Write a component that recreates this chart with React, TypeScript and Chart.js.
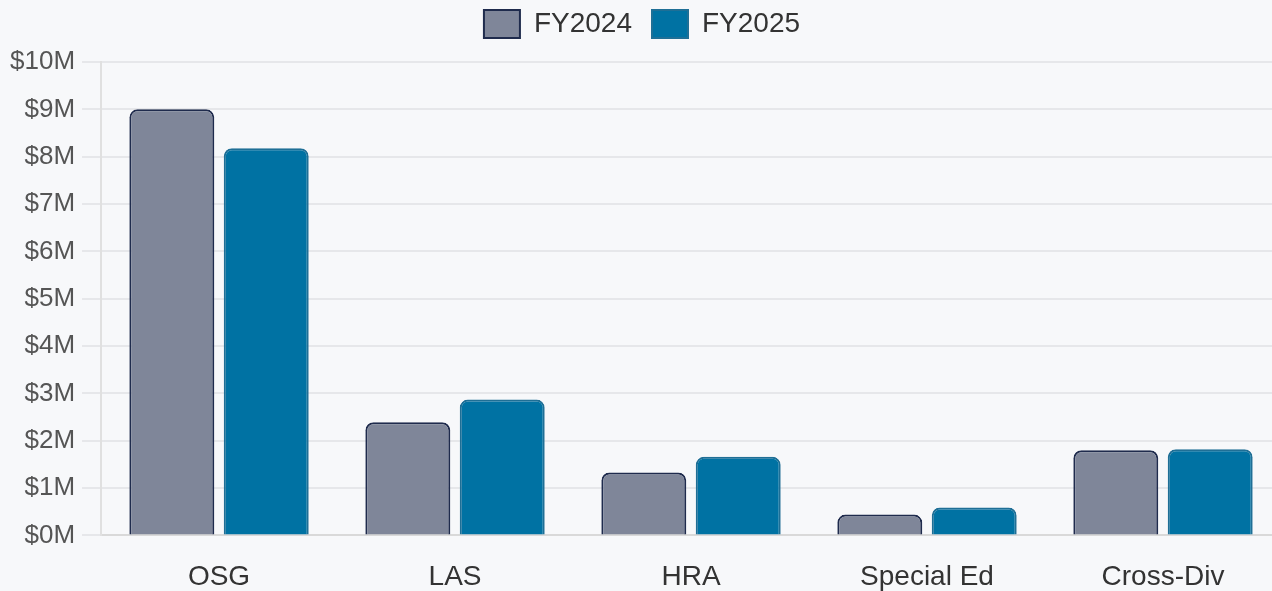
import React, { useEffect, useRef } from "react";
import { Chart, registerables } from "chart.js";

Chart.register(...registerables);

const categories = ["OSG", "LAS", "HRA", "Special Ed", "Cross-Div"];
const fy2024 = [9.0, 2.39, 1.33, 0.44, 1.8];
const fy2025 = [8.18, 2.87, 1.66, 0.59, 1.82];
const yTicks = [0, 1, 2, 3, 4, 5, 6, 7, 8, 9, 10];

const FONT = "'Liberation Sans', Arial, Helvetica, sans-serif";

const bgPlugin = {
  id: "bg",
  beforeInit(chart: any) {
    const lg = chart.legend;
    if (lg && !lg.__patched) {
      const fit = lg.fit;
      lg.fit = function () {
        fit.call(this);
        this.height += 14;
      };
      lg.__patched = true;
    }
  },
  beforeDraw(chart: any) {
    const { ctx, width, height } = chart;
    ctx.save();
    ctx.fillStyle = "#f7f8fa";
    ctx.fillRect(0, 0, width, height);
    ctx.restore();
  },
};

export default function App() {
  const ref = useRef<HTMLCanvasElement>(null);
  useEffect(() => {
    document.body.style.margin = "0";
    document.body.style.background = "#f7f8fa";
    const chart = new Chart(ref.current!, {
      type: "bar",
      data: {
        labels: categories,
        datasets: [
          {
            label: "FY2024",
            data: fy2024,
            backgroundColor: "#7f8699",
            borderColor: "#1f2b4d",
            borderWidth: 2,
            borderRadius: 8,
          },
          {
            label: "FY2025",
            data: fy2025,
            backgroundColor: "#0072a3",
            borderColor: "#1f6f96",
            borderWidth: 2,
            borderRadius: 8,
          },
        ],
      },
      options: {
        animation: false,
        responsive: false,
        maintainAspectRatio: false,
        layout: { padding: { left: 3, right: 0, top: -10, bottom: 0 } },
        plugins: {
          legend: {
            position: "top",
            labels: {
              boxWidth: 36,
              boxHeight: 28,
              padding: 20,
              color: "#333",
              font: { size: 28, family: FONT },
            },
          },
          tooltip: { enabled: false },
        },
        scales: {
          x: {
            grid: { display: false },
            border: { color: "#d9d9d9", width: 2 },
            ticks: {
              color: "#333",
              padding: 17,
              font: { size: 28, family: FONT },
            },
          },
          y: {
            min: 0,
            max: 10,
            afterBuildTicks(axis: any) {
              axis.ticks = yTicks.map((v) => ({ value: v }));
            },
            grid: { color: "#e6e7ea", lineWidth: 2, tickLength: 19 },
            border: { color: "#e0e0e0", width: 2 },
            ticks: {
              color: "#555",
              padding: 7,
              font: { size: 26, family: FONT },
              callback: (v: any) => `$${v}M`,
            },
          },
        },
      },
      plugins: [bgPlugin],
    });
    return () => chart.destroy();
  }, []);
  return (
    <div
      style={{
        position: "fixed",
        left: 0,
        top: 0,
        width: 1272,
        height: 591,
        overflow: "hidden",
        background: "#f7f8fa",
      }}
    >
      <canvas ref={ref} width={1281} height={611} style={{ display: "block" }} />
    </div>
  );
}
